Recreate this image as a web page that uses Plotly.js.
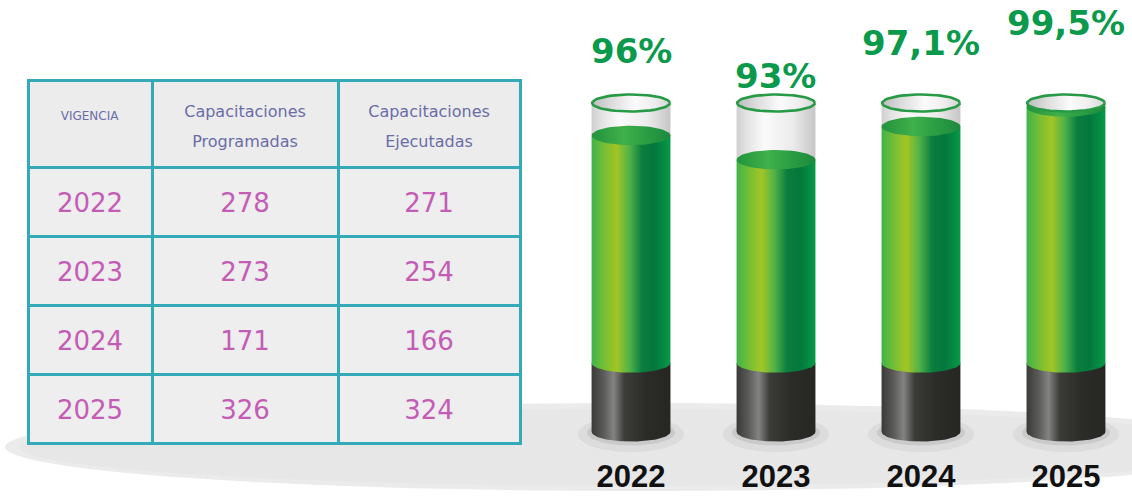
<!DOCTYPE html>
<html>
<head>
<meta charset="utf-8">
<script src="https://cdn.plot.ly/plotly-3.0.1.min.js"></script>
<style>
  html, body { margin: 0; padding: 0; background: #ffffff; }
  #chart { width: 1132px; height: 497px; }
</style>
</head>
<body>
<div id="chart"></div>
<script>
// ---- data ----
const years = ['2022', '2023', '2024', '2025'];
const programadas = [278, 273, 171, 326];
const ejecutadas = [271, 254, 166, 324];
const porcentajes = [96, 93, 97.1, 99.5];
const etiquetas = ['96%', '93%', '97,1%', '99,5%'];
const headerLines = [['VIGENCIA'], ['Capacitaciones', 'Programadas'], ['Capacitaciones', 'Ejecutadas']];

// ---- cylinder geometry (axis units) ----
const RIM = 100;          // top of the tube = 100 %
const LIQ_BASE = 67.9;    // where the liquid column starts (top of black base)
const BASE_BOTTOM = 59.4; // bottom of the black base
const HALF_W = 0.272;
const RY_RIM = 1.05;
const RY_LIQ = 1.2;
const N = 60;

function ellipse(cx, cy, rx, ry) {
  const xs = [], ys = [];
  for (let k = 0; k <= N; k++) {
    const t = 2 * Math.PI * k / N;
    xs.push(cx + rx * Math.cos(t));
    ys.push(cy + ry * Math.sin(t));
  }
  return {x: xs, y: ys};
}
function body(cx, yBottom, yTop, rx, ry) {
  const xs = [], ys = [];
  for (let k = 0; k <= N; k++) {
    const t = Math.PI + Math.PI * k / N;
    xs.push(cx + rx * Math.cos(t));
    ys.push(yBottom + ry * Math.sin(t));
  }
  xs.push(cx + rx, cx - rx, cx - rx);
  ys.push(yTop, yTop, yBottom);
  return {x: xs, y: ys};
}
function rect(cx, yBottom, yTop, rx) {
  return {x: [cx - rx, cx + rx, cx + rx, cx - rx, cx - rx], y: [yBottom, yBottom, yTop, yTop, yBottom]};
}
function shapeTrace(pts, scale, line) {
  return {
    type: 'scatter', mode: 'lines', x: pts.x, y: pts.y,
    fill: 'toself', fillcolor: scale[0][1],
    fillgradient: {type: 'horizontal', colorscale: scale},
    line: line || {width: 0, color: 'rgba(0,0,0,0)'},
    hoverinfo: 'skip', showlegend: false
  };
}

const greenScale = [[0, '#3fb449'], [0.18, '#7cbf33'], [0.32, '#a2c524'], [0.48, '#50b249'], [0.64, '#0b7d3e'], [0.8, '#03773c'], [1, '#069a47']];
const liqTopScale = [[0, '#23923c'], [0.4, '#3fb04a'], [0.75, '#279a42'], [1, '#1c8a3c']];
const blackScale = [[0, '#3a3a37'], [0.15, '#5a5a58'], [0.28, '#838381'], [0.42, '#3b3b38'], [0.7, '#2b2b27'], [1, '#262622']];
const glassScale = [[0, '#cfcfcf'], [0.12, '#e2e2e2'], [0.35, '#fafafa'], [0.7, '#ececec'], [1, '#c6c6c6']];
const rimScale = [[0, '#bdbdbd'], [0.25, '#dcdcdc'], [0.55, '#fbfbfb'], [0.8, '#eeeeee'], [1, '#d4d4d4']];

const traces = [];
years.forEach((yr, i) => {
  const v = porcentajes[i];
  const sh1 = ellipse(i, BASE_BOTTOM - 0.3, HALF_W * 1.35, 2.2);
  traces.push(shapeTrace(sh1, [[0, 'rgba(120,120,120,0.10)'], [1, 'rgba(120,120,120,0.10)']]));
  const sh2 = ellipse(i, BASE_BOTTOM - 0.1, HALF_W * 1.12, 1.6);
  traces.push(shapeTrace(sh2, [[0, 'rgba(90,90,90,0.14)'], [1, 'rgba(90,90,90,0.14)']]));
  traces.push(shapeTrace(rect(i, v, RIM, HALF_W), glassScale));
  traces.push(shapeTrace(body(i, BASE_BOTTOM, LIQ_BASE, HALF_W, RY_LIQ), blackScale));
  traces.push(shapeTrace(body(i, LIQ_BASE, v, HALF_W, RY_LIQ), greenScale));
  traces.push(shapeTrace(ellipse(i, v, HALF_W, RY_LIQ), liqTopScale));
  traces.push(shapeTrace(ellipse(i, RIM, HALF_W * 0.985, RY_RIM), rimScale, {width: 2.6, color: '#279a45'}));
});

// ---- table: grid (fills + lines) ----
const H = 497;
const TOP = 80, BOTTOM = 443, SHIFT = 16.5;
const colW = [124, 186, 182];
const blank = years.map(() => '');
traces.push({
  type: 'table',
  domain: {x: [28 / 1132, 520 / 1132], y: [(H - BOTTOM - 4) / H, (H - TOP) / H]},
  columnwidth: colW,
  header: {
    values: headerLines.map(() => ['']),
    height: 87,
    fill: {color: '#ececec'},
    line: {color: '#34a9b8', width: 3}
  },
  cells: {
    values: [blank, blank, blank],
    height: 69,
    fill: {color: '#eeeeee'},
    line: {color: '#34a9b8', width: 3}
  }
});
// ---- table: text layer (same structure, shifted to centre text vertically) ----
const hdrRows = [0, 1, 2];
traces.push({
  type: 'table',
  domain: {x: [28 / 1132, 520 / 1132], y: [(H - BOTTOM - SHIFT) / H, (H - TOP - SHIFT) / H]},
  columnwidth: colW,
  header: {
    values: headerLines.map((lines) => hdrRows.map(r => {
      if (lines.length === 1) return r === 0 ? '<br>' + lines[0] : '';
      return lines[r] || '';
    })),
    height: 29,
    align: 'center',
    fill: {color: 'rgba(0,0,0,0)'},
    line: {color: 'rgba(0,0,0,0)', width: 0},
    font: {family: '"DejaVu Sans", sans-serif', size: [12, 16, 16], color: '#6a6ca8'}
  },
  cells: {
    values: [years, programadas, ejecutadas],
    height: 69,
    align: 'center',
    fill: {color: 'rgba(0,0,0,0)'},
    line: {color: 'rgba(0,0,0,0)', width: 0},
    font: {family: '"DejaVu Sans", sans-serif', size: 26, color: '#c45cb6'}
  }
});

const annotations = etiquetas.map((t, i) => ({
  x: i, y: porcentajes[i], xref: 'x', yref: 'y',
  text: '<b>' + t + '</b>', showarrow: false, yshift: 84,
  font: {family: '"DejaVu Sans", sans-serif', size: 34, color: '#0b9a4b'},
  xanchor: 'center', yanchor: 'middle'
}));

const layout = {
  width: 1132, height: 497,
  margin: {l: 0, r: 0, t: 0, b: 0},
  paper_bgcolor: '#ffffff', plot_bgcolor: 'rgba(0,0,0,0)',
  showlegend: false,
  xaxis: {
    domain: [0.4934, 0.9929], range: [-0.5, 3.4],
    tickvals: years.map((_, i) => i), ticktext: years,
    tickfont: {family: '"Liberation Sans", Arial, sans-serif', size: 31, color: '#111111', weight: 'bold'},
    showgrid: false, zeroline: false, showline: false, ticks: '', fixedrange: true
  },
  yaxis: {domain: [42 / 497, 1], range: [56.54, 112.72], visible: false, fixedrange: true},
  shapes: [
    {type: 'circle', xref: 'paper', yref: 'paper', layer: 'below',
     x0: 5 / 1132, x1: 1275 / 1132, y0: (H - 491) / H, y1: (H - 403) / H,
     fillcolor: '#ebebeb', line: {width: 0}},
    {type: 'circle', xref: 'paper', yref: 'paper', layer: 'below',
     x0: 20 / 1132, x1: 1260 / 1132, y0: (H - 486) / H, y1: (H - 409) / H,
     fillcolor: '#e7e7e7', line: {width: 0}}
  ],
  annotations: annotations
};

Plotly.newPlot('chart', traces, layout, {displayModeBar: false, staticPlot: true});
</script>
</body>
</html>
